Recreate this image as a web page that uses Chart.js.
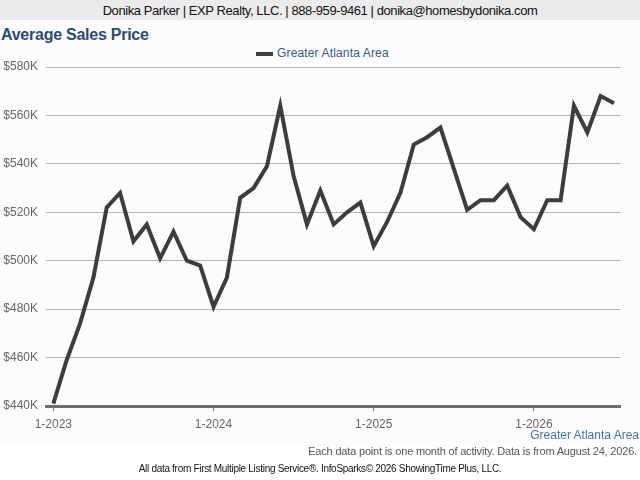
<!DOCTYPE html>
<html>
<head>
<meta charset="utf-8">
<script src="https://cdn.jsdelivr.net/npm/chart.js@4"></script>
<style>
  html, body { margin:0; padding:0; background:#ffffff; }
  body { width:640px; height:480px; position:relative; overflow:hidden; font-family:"Liberation Sans", Arial, sans-serif; }
  .abs { position:absolute; white-space:nowrap; line-height:1; }
  #header { position:absolute; left:0; top:0; width:640px; height:20px; background:#ebebeb; color:#111; font-size:13px; line-height:21px; text-align:center; letter-spacing:-0.42px; }
  #panel { position:absolute; left:0; top:20px; width:640px; height:426px; background:#fcfcfc; }
  #chart { position:absolute; left:0; top:0; }
</style>
</head>
<body>
<div id="panel"></div>
<div id="header">Donika Parker | EXP Realty, LLC. | 888-959-9461 | donika@homesbydonika.com</div>
<div class="abs" style="left:1px; top:27px; font-size:16px; font-weight:bold; color:#2c4b6f; letter-spacing:-0.25px;">Average Sales Price</div>
<div class="abs" style="left:256px; top:52px; width:17px; height:4px; background:#404040;"></div>
<div class="abs" style="left:277px; top:47px; font-size:12px; color:#35597f; letter-spacing:0.15px;">Greater Atlanta Area</div>
<canvas id="chart" width="640" height="480"></canvas>
<div class="abs" style="right:1px; top:429px; font-size:12px; color:#4a72a0;">Greater Atlanta Area</div>
<div class="abs" style="right:3px; top:446px; font-size:11px; color:#555; letter-spacing:-0.18px;">Each data point is one month of activity. Data is from August 24, 2026.</div>
<div class="abs" style="left:0; width:640px; text-align:center; top:464px; font-size:10px; color:#111; letter-spacing:-0.3px;">All data from First Multiple Listing Service®. InfoSparks© 2026 ShowingTime Plus, LLC.</div>
<script>
// Monthly average sales price (thousands of dollars), Jan 2023 - Jul 2026
const months = [
  '1-2023','2-2023','3-2023','4-2023','5-2023','6-2023','7-2023','8-2023','9-2023','10-2023','11-2023','12-2023',
  '1-2024','2-2024','3-2024','4-2024','5-2024','6-2024','7-2024','8-2024','9-2024','10-2024','11-2024','12-2024',
  '1-2025','2-2025','3-2025','4-2025','5-2025','6-2025','7-2025','8-2025','9-2025','10-2025','11-2025','12-2025',
  '1-2026','2-2026','3-2026','4-2026','5-2026','6-2026','7-2026'
];
const avgPrice = [
  441, 459, 474, 493, 522, 528, 508, 515, 501, 512, 500, 498,
  481, 493, 526, 530, 539, 564, 535, 515, 529, 515, 520, 524,
  506, 516, 528, 548, 551, 555, 538, 521, 525, 525, 531, 518,
  513, 525, 525, 564, 553, 568, 565
];
const seriesName = 'Greater Atlanta Area';
const xTickLabels = ['1-2023', '1-2024', '1-2025', '1-2026'];
const yTickValues = [440, 460, 480, 500, 520, 540, 560, 580];

const points = avgPrice.map((v, i) => ({ x: i, y: v }));
const xTickPositions = xTickLabels.map(l => months.indexOf(l));

new Chart(document.getElementById('chart'), {
  type: 'line',
  data: {
    datasets: [{
      label: seriesName,
      data: points,
      borderColor: '#3d3d3d',
      borderWidth: 4,
      pointRadius: 0,
      pointHoverRadius: 0,
      tension: 0,
      fill: false
    }]
  },
  options: {
    responsive: false,
    animation: false,
    events: [],
    layout: { padding: { top: 67, right: 20, bottom: 44, left: 0 } },
    plugins: { legend: { display: false }, tooltip: { enabled: false }, title: { display: false } },
    scales: {
      x: {
        type: 'linear',
        min: -0.55,
        max: 42.45,
        afterBuildTicks: (scale) => { scale.ticks = xTickPositions.map(v => ({ value: v })); },
        afterFit: (scale) => { scale.height = 30; },
        ticks: {
          autoSkip: false,
          maxRotation: 0,
          padding: 6,
          color: '#666',
          font: { family: '"Liberation Sans", Arial, sans-serif', size: 12 },
          callback: (v) => { const i = xTickPositions.indexOf(v); return i >= 0 ? xTickLabels[i] : ''; }
        },
        grid: { display: true, drawOnChartArea: false, drawTicks: true, tickLength: 5, color: '#777', lineWidth: 1 },
        border: { display: true, color: '#6f6f6f', width: 3 }
      },
      y: {
        min: 440,
        max: 580,
        afterBuildTicks: (scale) => { scale.ticks = yTickValues.map(v => ({ value: v })); },
        afterFit: (scale) => { scale.width = 46; },
        ticks: {
          padding: 8,
          color: '#666',
          font: { family: '"Liberation Sans", Arial, sans-serif', size: 12 },
          callback: (v) => '$' + v + 'K'
        },
        grid: { color: '#b4b4b4', lineWidth: 1, drawTicks: false },
        border: { display: false }
      }
    }
  }
});
</script>
</body>
</html>
